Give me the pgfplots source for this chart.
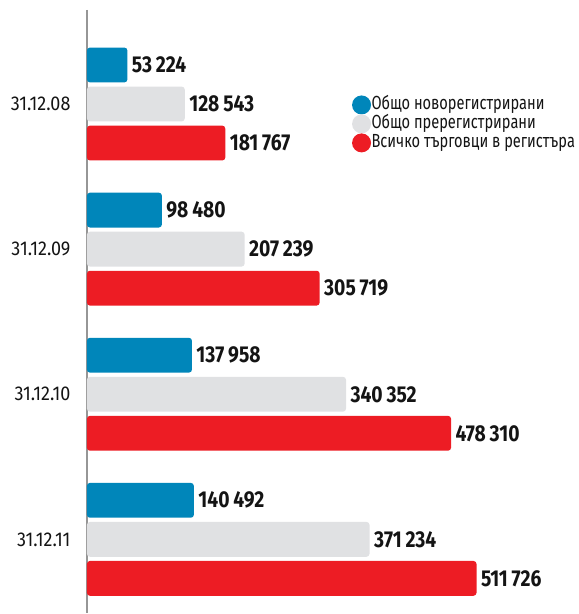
\documentclass[border=0pt]{standalone}
\usepackage{fontspec}
\setmainfont{Fira Sans}[FakeStretch=0.84]
\newfontfamily\tickfont{Fira Sans}[FakeStretch=0.9]
\newfontfamily\legfont{Fira Sans}[FakeStretch=0.77]
\usepackage{pgfplots}
\pgfplotsset{compat=1.18}
\definecolor{cblue}{RGB}{0,134,186}
\definecolor{cgray}{RGB}{224,225,227}
\definecolor{cred}{RGB}{237,28,36}
\definecolor{txt}{RGB}{20,20,20}
\definecolor{axgray}{RGB}{150,150,150}
\begin{document}
\begin{tikzpicture}
\path (0,0) rectangle (579pt,614pt);
\begin{axis}[at={(87pt,0pt)}, anchor=south west, scale only axis,
  width=492pt, height=604pt,
  xbar, bar width=0.24, xmin=0, xmax=645560, ymin=-0.648, ymax=3.51, y dir=reverse,
  hide x axis, axis y line*=left,
  y axis line style={draw=axgray, line width=1.3pt, -},
  ytick={0,1,2,3}, yticklabels={31.12.08,31.12.09,31.12.10,31.12.11},
  major tick length=0pt,
  yticklabel style={font=\tickfont\fontsize{20}{20}\selectfont, text=txt, xshift=-13pt},
  clip=false,
  point meta=explicit symbolic,
  nodes near coords,
  nodes near coords style={font=\bfseries\fontsize{23}{23}\selectfont, text=txt, anchor=west, xshift=1pt},
  legend style={at={(0.533,0.862)}, anchor=north west, draw=none, fill=none,
    font=\legfont\fontsize{19}{19}\selectfont, text=txt, row sep=0pt,
    nodes={inner sep=0.5pt, text height=13pt, text depth=4.5pt}},
  legend cell align=left,
  legend image code/.code={\fill[#1, rounded corners=0pt] (4pt,0pt) circle (9.5pt);},
]
\addplot[fill=cblue, draw=none, bar shift=-0.269, rounded corners=3pt] coordinates {(53224,0) [53\,224] (98480,1) [98\,480] (137958,2) [137\,958] (140492,3) [140\,492]};
\addplot[fill=cgray, draw=none, bar shift=0, rounded corners=3pt] coordinates {(128543,0) [128\,543] (207239,1) [207\,239] (340352,2) [340\,352] (371234,3) [371\,234]};
\addplot[fill=cred, draw=none, bar shift=0.269, rounded corners=3pt] coordinates {(181767,0) [181\,767] (305719,1) [305\,719] (478310,2) [478\,310] (511726,3) [511\,726]};
\legend{Общо новорегистрирани, Общо пререгистрирани, Всичко търговци в регистъра}
\end{axis}
\end{tikzpicture}
\end{document}
